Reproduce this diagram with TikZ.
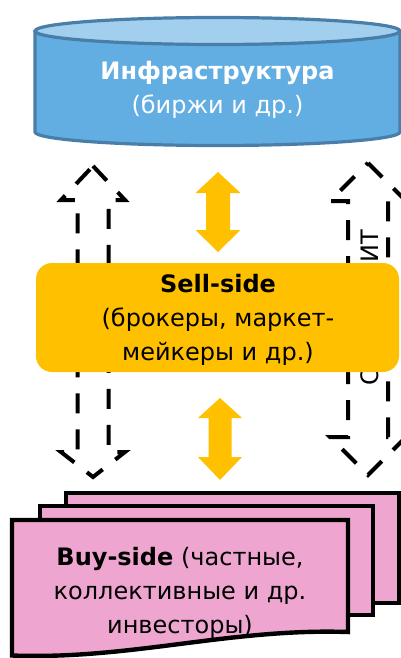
\documentclass[tikz,border=0pt]{standalone}
\usepackage{fontspec}
\setmainfont{DejaVu Sans}
\usepackage{tikz}
\usetikzlibrary{arrows.meta}
\definecolor{skyblue}{RGB}{98,174,226}
\definecolor{skytop}{RGB}{163,207,238}
\definecolor{steel}{RGB}{72,126,168}
\definecolor{amber}{RGB}{255,192,0}
\definecolor{orchid}{RGB}{238,166,208}
\tikzset{%
    dasharrow/.style={draw=black, line width=2pt, dash pattern=on 10pt off 8pt},
    sheet/.style={fill=orchid, draw=black, line width=2.2pt},
    blocktext/.style={align=center, font=\fontsize{12}{17}\selectfont}
}
% block double arrow: x, shaft half, head half, top tip, top base, bottom base, bottom tip
\newcommand{\updown}[7]{%
    (#1,#4) -- (#1+#3,#5) -- (#1+#2,#5) -- (#1+#2,#6) -- (#1+#3,#6) -- (#1,#7)
    -- (#1-#3,#6) -- (#1-#2,#6) -- (#1-#2,#5) -- (#1-#3,#5) -- cycle}

\begin{document}
\begin{tikzpicture}[x=0.5pt,y=-0.5pt]
\useasboundingbox (0,0) rectangle (401,658);
% dashed arrows behind the sell-side block
\draw[dasharrow] \updown{93}{15.5}{32}{166}{200}{452}{477};
\draw[dasharrow] \updown{368}{20}{38}{163}{201}{437}{475};
\node[blocktext, rotate=90, anchor=base west] (serv) at (378,393) {Сервисы, ИТ};
% infrastructure drum
\fill[skyblue] (35,31) rectangle (400,132);
\fill[skyblue] (217.5,132) ellipse[x radius=182.5, y radius=13.5];
\draw[steel, line width=1.6pt] (35,31) -- (35,132)
    arc[start angle=180, end angle=0, x radius=182.5, y radius=13.5] -- (400,31);
\filldraw[fill=skytop, draw=steel, line width=1.6pt] (217.5,31) ellipse[x radius=182.5, y radius=13.5];
\node[blocktext, text=white] (infra) at (217.5,90) {\textbf{Инфраструктура}\\(биржи и др.)};
% links between the levels
\fill[amber] \updown{218}{12}{22.5}{172}{193}{230}{252};
\fill[amber] \updown{220}{11.5}{22}{398}{418}{457}{480};
% sell-side
\fill[amber, rounded corners=8pt] (36,263) rectangle (399,372);
\node[blocktext] (sell) at (218,320) {\textbf{Sell-side}\\(брокеры, маркет-\\мейкеры и др.)};
% buy-side stack
\draw[sheet] (66,493) rectangle (399,603);
\draw[sheet] (40,506) rectangle (373,615);
\draw[sheet] (12,520) -- (348,520) -- (348,632) .. controls (230,628) and (130,660) .. (12,655.5) -- cycle;
\node[blocktext] (buy) at (180,593) {\textbf{Buy-side} (частные,\\коллективные и др.\\инвесторы)};
\end{tikzpicture}
\end{document}
